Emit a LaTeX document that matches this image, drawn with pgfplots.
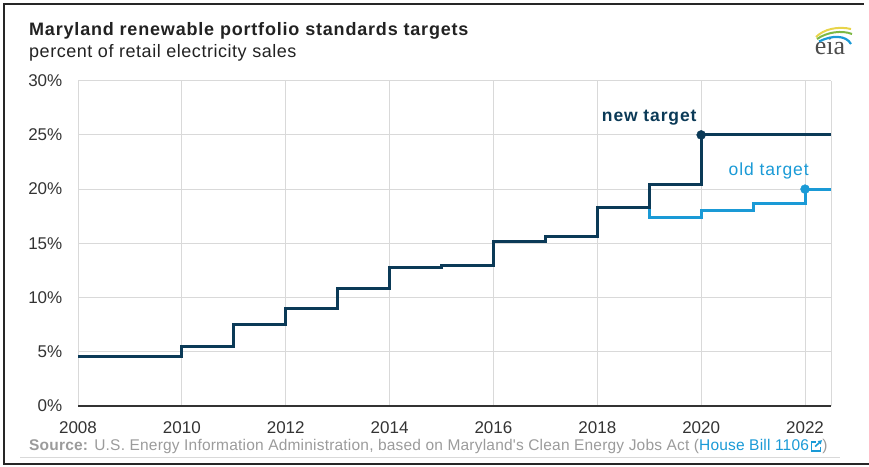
\documentclass[border=0pt]{standalone}
\usepackage{pgfplots}
\pgfplotsset{compat=1.18}
\usetikzlibrary{arrows.meta}
\usepackage{fontspec}
\setmainfont{Liberation Sans}
\newfontfamily\titlef{Liberation Sans}[LetterSpace=4.5]
\newfontfamily\subf{Liberation Sans}[LetterSpace=3]
\newfontfamily\annf{Liberation Sans}[LetterSpace=5]
\newfontfamily\srcf{Liberation Sans}[LetterSpace=1.3]
\newfontfamily\eiaf{Liberation Serif}
\definecolor{navy}{HTML}{0B3A57}
\definecolor{lblue}{HTML}{1A9AD6}
\definecolor{gridc}{HTML}{D9D9D9}
\definecolor{tickc}{HTML}{333333}
\definecolor{srcg}{HTML}{9B9B9B}
\definecolor{titlec}{HTML}{222222}
\definecolor{eiagreen}{HTML}{7DB843}
\definecolor{eiayellow}{HTML}{E8D44A}
\begin{document}
\begin{tikzpicture}
\path[use as bounding box] (0bp,0bp) rectangle (869bp,467bp);
\begin{axis}[
  at={(78bp,61bp)}, anchor=south west,
  scale only axis, width=753bp, height=325.3bp,
  xmin=2008, xmax=2022.5, ymin=0, ymax=30,
  xtick={2008,2010,...,2022}, ytick={0,5,...,30},
  extra x ticks={2022.5}, extra x tick labels={},
  grid=major, major grid style={gridc, line width=1bp},
  extra x tick style={grid=major},
  axis line style={draw=none},
  major tick length=0pt,
  tick style={draw=none},
  /pgf/number format/assume math mode=true,
  /pgf/number format/1000 sep={},
  ticklabel style={font=\fontsize{17bp}{20bp}\selectfont, text=tickc},
  yticklabel={\pgfmathprintnumber{\tick}\%},
  yticklabel style={anchor=east, inner sep=0pt, xshift=-15.5bp},
  xticklabel style={anchor=base, inner sep=0pt, yshift=-27.5bp},
  clip=false,
]
\addplot[const plot, lblue, line width=3bp] coordinates {
  (2018,18.3) (2019,17.4) (2020,18.0) (2021,18.7) (2022,20.0) (2022.5,20.0)};
\addplot[const plot, navy, line width=3bp] coordinates {
  (2008,4.6) (2010,5.5) (2011,7.5) (2012,9.0) (2013,10.8) (2014,12.8)
  (2015,13.0) (2016,15.2) (2017,15.6) (2018,18.3) (2019,20.4)
  (2020,25) (2021,25) (2022,25) (2022.5,25)};
\addplot[only marks, mark=*, mark size=4.5bp, navy] coordinates {(2020,25)};
\addplot[only marks, mark=*, mark size=4.5bp, lblue] coordinates {(2022,20)};
\draw[tickc, line width=1.6bp] (axis cs:2008,0) -- (axis cs:2022.5,0);
\node[anchor=base, inner sep=0pt, text=navy, font=\annf\bfseries\fontsize{17.5bp}{20bp}\selectfont] at (axis cs:2019,26.2) {new target};
\node[anchor=base, inner sep=0pt, text=lblue, font=\annf\fontsize{17.5bp}{20bp}\selectfont] at (axis cs:2021.3,21.3) {old target};
\end{axis}
\begin{scope}[x=1bp, y=-1bp, shift={(0bp,467bp)}]
\node[anchor=base west, inner sep=0pt, text=titlec, font=\titlef\bfseries\fontsize{18bp}{20bp}\selectfont] at (29,36) {Maryland renewable portfolio standards targets};
\node[anchor=base west, inner sep=0pt, text=titlec, font=\subf\fontsize{18bp}{20bp}\selectfont] at (29,58) {percent of retail electricity sales};
\node[anchor=base west, inner sep=0pt, text=srcg, font=\srcf\fontsize{15.5bp}{18bp}\selectfont] (src) at (29,451) {\textbf{Source:} U.S. Energy Information Administration, based on Maryland's Clean Energy Jobs Act (\textcolor{lblue}{House Bill 1106}};
\coordinate (ic) at ([xshift=2.5bp]src.base east);
\draw[lblue, line width=1.3bp] ([shift={(4bp,9bp)}]ic) -- ([shift={(0bp,9bp)}]ic) -- (ic) -- ([shift={(9bp,0bp)}]ic) -- ([shift={(9bp,4bp)}]ic);
\draw[lblue, line width=1.6bp, -{Latex[length=4bp,width=5bp]}] ([shift={(3.5bp,4.5bp)}]ic) -- ([shift={(10.5bp,11bp)}]ic);
\node[anchor=base west, inner sep=0pt, text=srcg, font=\srcf\fontsize{15.5bp}{18bp}\selectfont] at ([xshift=13bp]src.base east) {)};
\draw[gridc, line width=1bp] (20,457.5) -- (840,457.5);
\draw[black!85, line width=2bp] (869,464.5) -- (4.5,464.5) -- (4.5,4.5) -- (864,4.5);
\node[anchor=base, inner sep=0pt, text=black!70, font=\eiaf\fontsize{26bp}{26bp}\selectfont] at (830,55) {eia};
\draw[eiayellow, line width=2bp] (816,37) .. controls (824,29) and (838,26) .. (851,29);
\draw[eiagreen, line width=2bp] (817,39) .. controls (827,32) and (842,30) .. (852,34);
\draw[lblue, line width=2.2bp] (819,41.5) .. controls (832,35) and (846,35) .. (851,44);
\end{scope}
\end{tikzpicture}
\end{document}
